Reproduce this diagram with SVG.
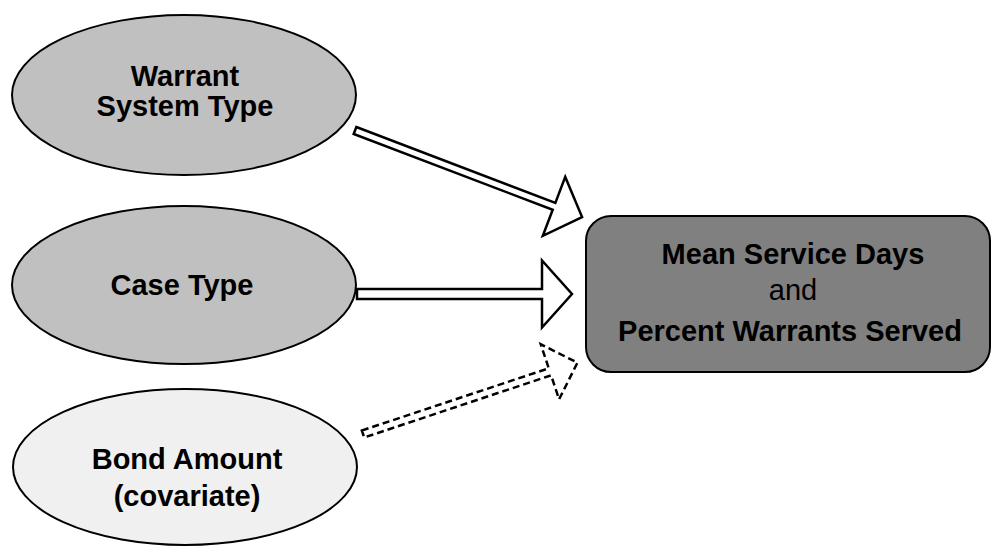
<svg xmlns="http://www.w3.org/2000/svg" width="992" height="546" viewBox="0 0 992 546">
<style>
.node{stroke:#000;stroke-width:2}
.t{font-family:"Liberation Sans",Arial,sans-serif;font-size:29px;font-weight:bold;fill:#000;text-anchor:middle}
.n{font-weight:normal}
.arr{fill:#fff;stroke:#000;stroke-width:2.5;stroke-linejoin:miter}
.dash{stroke-dasharray:7,4}
</style>
<rect width="992" height="546" fill="#fff"/>
<g id="connectors">
<polygon class="arr" transform="translate(355,130.5) rotate(20.86)" points="0,-3.7 213,-3.7 213,-31.5 243,0 213,31.5 213,3.7 0,3.7"/>
<polygon class="arr" transform="translate(357,294)" points="0,-5 185,-5 185,-33.5 215,0 185,33.5 185,5 0,5"/>
<polygon class="arr dash" transform="translate(363,434) rotate(-18.4)" points="0,-3.7 197,-3.7 197,-29 226,0 197,29 197,3.7 0,3.7"/>
</g>
<g id="warrant-system-type">
<ellipse class="node" cx="184" cy="95" rx="172" ry="80" fill="#c0c0c0"/>
<text class="t" x="185" y="86">Warrant</text>
<text class="t" x="185" y="116">System Type</text>
</g>
<g id="case-type">
<ellipse class="node" cx="184" cy="285" rx="172" ry="79" fill="#c0c0c0"/>
<text class="t" x="182" y="295">Case Type</text>
</g>
<g id="bond-amount">
<ellipse class="node" cx="185" cy="467" rx="172" ry="78" fill="#f0f0f0"/>
<text class="t" x="187" y="469">Bond Amount</text>
<text class="t" x="187" y="506">(covariate)</text>
</g>
<g id="outcome">
<rect class="node" x="586" y="216" width="404" height="156" rx="25" ry="25" fill="#808080"/>
<text class="t" x="793" y="264">Mean Service Days</text>
<text class="t n" x="793" y="300">and</text>
<text class="t" x="790" y="341">Percent Warrants Served</text>
</g>
</svg>
